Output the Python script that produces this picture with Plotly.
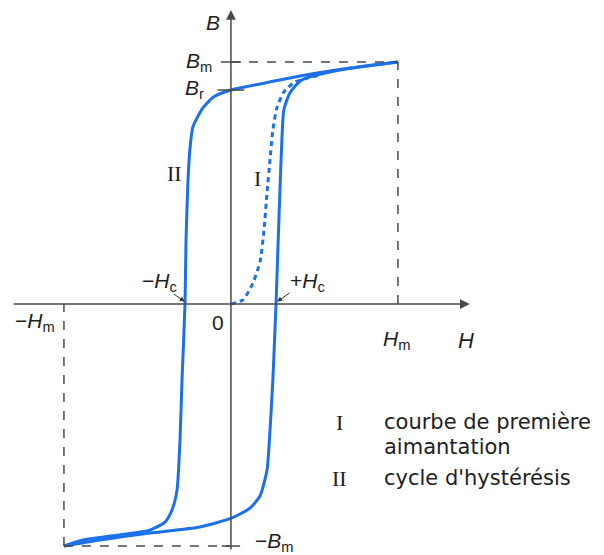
import plotly.graph_objects as go

# normalised units: H / Hm and B / Bm
upper_h = [1.0, 0.713, 0.413, 0.174, 0.0, -0.1, -0.168, -0.228, -0.246, -0.257, -0.269, -0.275,
           -0.293, -0.305, -0.323, -0.353, -0.395, -0.485, -0.683, -0.886, -1.0]
upper_b = [1.0, 0.975, 0.942, 0.909, 0.884, 0.857, 0.81, 0.731, 0.636, 0.512, 0.264, 0.0,
           -0.314, -0.562, -0.769, -0.851, -0.901, -0.934, -0.955, -0.975, -1.0]

lower_h = [-1.0, -0.784, -0.485, -0.186, 0.006, 0.114, 0.174, 0.216, 0.234, 0.251, 0.27,
           0.281, 0.293, 0.305, 0.317, 0.353, 0.425, 0.653, 1.0]
lower_b = [-1.0, -0.975, -0.946, -0.921, -0.884, -0.843, -0.793, -0.686, -0.521, -0.314, 0.0,
           0.223, 0.459, 0.678, 0.802, 0.872, 0.926, 0.967, 1.0]

first_h = [0.0, 0.072, 0.132, 0.174, 0.198, 0.216, 0.234, 0.251, 0.275, 0.317, 0.383, 0.533]
first_b = [0.0, 0.017, 0.087, 0.174, 0.306, 0.459, 0.595, 0.719, 0.810, 0.876, 0.917, 0.946]

Hm, Bm, Br, Hc = 1.0, 1.0, 0.884, 0.272

legend_marks = ["I", "", "II"]
legend_texts = ["courbe de première", "aimantation", "cycle d'hystérésis"]

BLUE = '#1c70e8'
GREY = '#4a4a4a'
SANS = 'Liberation Sans, Arial, sans-serif'
WIDE = 'DejaVu Sans, sans-serif'
SERIF = 'Liberation Serif, Times New Roman, serif'

fig = go.Figure()
fig.add_trace(go.Scatter(x=upper_h, y=upper_b, mode='lines', line=dict(color=BLUE, width=3, shape='spline', smoothing=0.6)))
fig.add_trace(go.Scatter(x=lower_h, y=lower_b, mode='lines', line=dict(color=BLUE, width=3, shape='spline', smoothing=0.6)))
fig.add_trace(go.Scatter(x=first_h, y=first_b, mode='lines', line=dict(color=BLUE, width=3, dash='5px,4px', shape='spline', smoothing=0.6)))

# dashed guides
fig.add_shape(type='line', x0=0, y0=Bm, x1=Hm, y1=Bm, line=dict(color=GREY, width=1.5, dash='dash'))
fig.add_shape(type='line', x0=Hm, y0=0, x1=Hm, y1=Bm, line=dict(color=GREY, width=1.5, dash='dash'))
fig.add_shape(type='line', x0=-Hm, y0=-Bm, x1=0, y1=-Bm, line=dict(color=GREY, width=1.5, dash='dash'))
fig.add_shape(type='line', x0=-Hm, y0=-Bm, x1=-Hm, y1=0, line=dict(color=GREY, width=1.5, dash='dash'))
# small ticks on B axis
for yv, half in [(Bm, 0.06), (Br, 0.08), (-Bm, 0.055)]:
    fig.add_shape(type='line', x0=-half, y0=yv, x1=half, y1=yv, line=dict(color=GREY, width=1.5))

# axes with arrows
fig.add_annotation(x=1.43, y=0, ax=-1.31, ay=0, axref='x', ayref='y', showarrow=True,
                   arrowhead=2, arrowsize=1.3, arrowwidth=1.5, arrowcolor=GREY, text='')
fig.add_annotation(x=0, y=1.215, ax=0, ay=-1.02, axref='x', ayref='y', showarrow=True,
                   arrowhead=2, arrowsize=1.3, arrowwidth=1.5, arrowcolor=GREY, text='')

# coercive field pointers
fig.add_annotation(x=-Hc - 0.005, y=0.01, ax=-0.35, ay=0.045, axref='x', ayref='y', showarrow=True,
                   arrowhead=2, arrowsize=1, arrowwidth=1, arrowcolor='#333', text='')
fig.add_annotation(x=Hc + 0.005, y=0.01, ax=0.36, ay=0.05, axref='x', ayref='y', showarrow=True,
                   arrowhead=2, arrowsize=1, arrowwidth=1, arrowcolor='#333', text='')

def label(x, y, text, size=21, family=SANS, xanchor='center'):
    fig.add_annotation(x=x, y=y, text=text, showarrow=False, xanchor=xanchor, yanchor='middle',
                       font=dict(family=family, size=size, color='#1e1e1e'))

label(-0.11, 1.165, '<i>B</i>', 21)
label(-0.19, 1.0, '<i>B</i><sub>m</sub>', 21)
label(-0.22, 0.89, '<i>B</i><sub>r</sub>', 21)
label(-0.43, 0.09, '−<i>H</i><sub>c</sub>', 21)
label(0.46, 0.09, '+<i>H</i><sub>c</sub>', 21)
label(-0.078, -0.075, '0', 21)
label(-1.175, -0.075, '−<i>H</i><sub>m</sub>', 21)
label(0.99, -0.15, '<i>H</i><sub>m</sub>', 21)
label(1.405, -0.15, '<i>H</i>', 22)
label(0.26, -0.985, '−<i>B</i><sub>m</sub>', 21)
label(-0.34, 0.54, 'II', 22, SERIF)
label(0.16, 0.52, 'I', 22, SERIF)

leg_y = [-0.488, -0.591, -0.719]
for mark, txt, yv in zip(legend_marks, legend_texts, leg_y):
    if mark:
        label(0.65, yv, mark, 22, SERIF)
    label(0.905, yv, txt, 21, WIDE, xanchor='left')

# the page adds an 8px body margin, so the figure covers reference pixels 8..604 / 8..555
fig.update_layout(width=596, height=547, margin=dict(l=0, r=0, t=0, b=0),
                  plot_bgcolor='white', paper_bgcolor='white', showlegend=False,
                  xaxis=dict(range=[-1.335, 2.234], visible=False),
                  yaxis=dict(range=[-1.037, 1.223], visible=False))
fig.write_html("out.html")
